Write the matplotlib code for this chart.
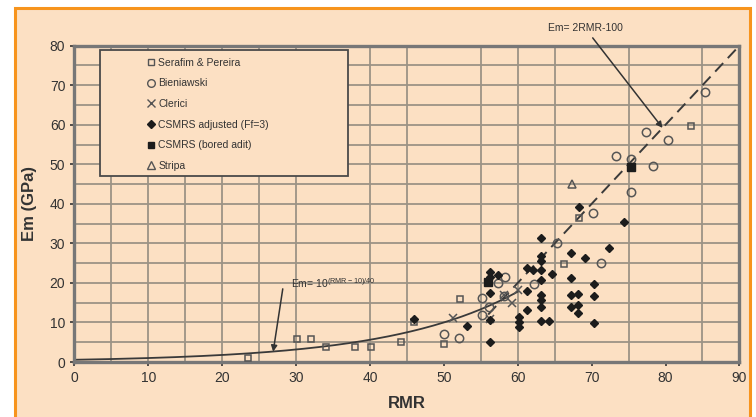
import matplotlib
matplotlib.use('Agg')
import numpy as np
import matplotlib.pyplot as plt
from matplotlib.patches import Rectangle
from matplotlib.lines import Line2D

# --- data (RMR, Em in GPa) ---
serafim_rmr = [23.5, 30.1, 32.0, 34.0, 38.0, 40.1, 44.2, 46.0, 50.0, 52.2, 66.3, 68.3, 83.4]
serafim_em = [1.0, 5.8, 5.8, 3.8, 3.8, 3.8, 5.0, 10.0, 4.5, 15.9, 24.8, 36.4, 59.7]

bieniawski_rmr = [50.0, 52.0, 55.2, 56.1, 55.2, 57.3, 58.3, 58.1, 62.2, 65.3, 70.2, 71.3,
                  75.3, 73.3, 75.3, 77.4, 78.3, 80.3, 85.3]
bieniawski_em = [7.1, 6.1, 16.2, 13.9, 11.9, 19.9, 21.6, 16.6, 19.7, 30.0, 37.6, 25.0,
                 43.0, 52.1, 51.3, 58.2, 49.6, 56.1, 68.3]

clerici_rmr = [51.3, 56.2, 58.2, 59.2, 60.0]
clerici_em = [11.1, 11.0, 17.0, 15.0, 18.2]

csmrs_adj_rmr = [46.0, 53.1, 56.2, 56.3, 56.3, 56.3, 56.3, 57.3, 60.2, 60.2, 60.2, 61.2,
                 61.2, 61.2, 62.0, 63.2, 63.2, 63.2, 63.2, 63.2, 63.2, 63.2, 63.2, 63.2,
                 64.2, 64.6, 67.2, 67.2, 67.2, 67.2, 68.2, 68.2, 68.2, 68.3, 69.1, 70.3,
                 70.3, 70.3, 72.4, 74.4]
csmrs_adj_em = [10.8, 9.1, 5.1, 10.6, 17.4, 22.7, 21.5, 22.0, 11.4, 10.0, 8.8, 13.2,
                17.9, 23.8, 23.3, 31.4, 26.9, 25.5, 23.3, 20.7, 17.0, 15.7, 13.8, 10.4,
                10.4, 22.2, 27.6, 21.2, 16.9, 13.9, 17.2, 14.4, 12.4, 39.2, 26.4, 19.7,
                16.8, 9.9, 28.8, 35.4]

csmrs_adit_rmr = [56.0, 75.3]
csmrs_adit_em = [20.3, 49.3]

stripa_rmr = [67.3]
stripa_em = [45.0]

# fitted relations shown in the figure
exp_rmr_range = [0, 60]          # Em = 10^((RMR-10)/40)
lin_rmr_range = [56, 90]         # Em = 2RMR - 100

x_ticks = [0, 10, 20, 30, 40, 50, 60, 70, 80, 90]
y_ticks = [0, 10, 20, 30, 40, 50, 60, 70, 80]
# vertical grid lines that survive in the scanned original
x_grid = [5, 10, 15, 20, 25, 30, 40, 45, 55, 60, 65, 75, 85]
y_grid = [5, 10, 15, 20, 25, 30, 35, 40, 45, 50, 55, 60, 65, 70, 75]

peach = '#fce0c3'
ink = '#333333'
grid_col = '#9c9386'

plt.rcParams['font.family'] = ['Liberation Sans', 'DejaVu Sans']

fig = plt.figure(figsize=(7.56, 4.17), dpi=100)
fig.patch.set_facecolor('white')
# orange framed panel behind the chart
fig.patches.append(Rectangle((15 / 756, -0.05), 735 / 756, 1.05 - 8 / 417,
                             transform=fig.transFigure, facecolor=peach,
                             edgecolor='#f7941d', linewidth=2.2, zorder=-10))

ax = fig.add_axes([74.4 / 756, 55 / 417, 665 / 756, 316.3 / 417])
ax.set_zorder(1)
ax.set_facecolor(peach)
ax.set_xlim(0, 90)
ax.set_ylim(0, 80)
ax.set_xticks(x_ticks)
ax.set_yticks(y_ticks)
ax.tick_params(labelsize=10, colors=ink, length=3, width=1.2, direction='out')

for gx in x_grid:
    ax.axvline(gx, color=grid_col, lw=1.3, zorder=0.5)
for gy in y_grid:
    ax.axhline(gy, color=grid_col, lw=1.3, zorder=0.5)

for s in ax.spines.values():
    s.set_color('#777777')
    s.set_linewidth(2.4)

# curves
xe = np.linspace(exp_rmr_range[0], exp_rmr_range[1], 200)
ax.plot(xe, 10 ** ((xe - 10) / 40), color='#3a3a3a', lw=1.3, zorder=2)
xl = np.array(lin_rmr_range)
ax.plot(xl, 2 * xl - 100, color='#3a3a3a', lw=1.4, ls=(0, (6, 3.5)), zorder=2)

# points
mk = dict(linestyle='none', zorder=4)
ax.plot(serafim_rmr, serafim_em, marker='s', ms=5, mfc='none', mec='#555555', mew=1.1, **mk)
ax.plot(bieniawski_rmr, bieniawski_em, marker='o', ms=6, mfc='none', mec='#555555', mew=1.1, **mk)
ax.plot(clerici_rmr, clerici_em, marker='x', ms=6, mec='#555555', mew=1.1, **mk)
ax.plot(csmrs_adj_rmr, csmrs_adj_em, marker='D', ms=4.5, mfc='#1c1c1c', mec='#1c1c1c', **mk)
ax.plot(csmrs_adit_rmr, csmrs_adit_em, marker='s', ms=5.5, mfc='#1c1c1c', mec='#1c1c1c', **mk)
ax.plot(stripa_rmr, stripa_em, marker='^', ms=6, mfc='none', mec='#555555', mew=1.1, **mk)

# annotations
ax.annotate('Em= 2RMR-100', xy=(79.6, 59.2), xytext=(69.1, 84.5),
            textcoords='data', ha='center', va='center', fontsize=7.5, color=ink,
            annotation_clip=False,
            arrowprops=dict(arrowstyle='-|>', color='#333333', lw=1.1,
                            mutation_scale=9, shrinkA=2, shrinkB=0))
ax.annotate('', xy=(26.9, 2.6), xytext=(28.2, 18.5),
            arrowprops=dict(arrowstyle='-|>', color='#333333', lw=1.1,
                            mutation_scale=9, shrinkA=0, shrinkB=0))
ax.text(29.3, 20.0, 'Em= 10' + r'$^{\mathregular{(RMR-10)/40}}$', fontsize=7.5,
        color=ink, ha='left', va='center', zorder=5)

# legend box (drawn as patch so grid is hidden under it)
ax.add_patch(Rectangle((0.0385, 0.588), 0.373, 0.398, transform=ax.transAxes,
                       facecolor=peach, edgecolor='#4a4a4a', lw=1.3, zorder=3))
handles = [
    Line2D([], [], ls='none', marker='s', ms=5, mfc='none', mec='#555555', mew=1.0),
    Line2D([], [], ls='none', marker='o', ms=5.5, mfc='none', mec='#555555', mew=1.0),
    Line2D([], [], ls='none', marker='x', ms=5.5, mec='#555555', mew=1.0),
    Line2D([], [], ls='none', marker='D', ms=4.5, mfc='#1c1c1c', mec='#1c1c1c'),
    Line2D([], [], ls='none', marker='s', ms=5, mfc='#1c1c1c', mec='#1c1c1c'),
    Line2D([], [], ls='none', marker='^', ms=5.5, mfc='none', mec='#555555', mew=1.0),
]
labels = ['Serafim & Pereira', 'Bieniawski', 'Clerici', 'CSMRS adjusted (Ff=3)',
          'CSMRS (bored adit)', 'Stripa']
leg = ax.legend(handles, labels, loc='upper left', bbox_to_anchor=(0.098, 0.985),
                frameon=False, fontsize=7.5, labelspacing=1.02, handlelength=0.8,
                handletextpad=0.3, borderpad=0.2, labelcolor=ink)
leg.set_zorder(6)

ax.set_xlabel('RMR', fontsize=12, fontweight='bold', color=ink, labelpad=8)
ax.set_ylabel('Em (GPa)', fontsize=12, fontweight='bold', color=ink, labelpad=9)

plt.savefig('out.png', dpi=100, facecolor=fig.get_facecolor())
